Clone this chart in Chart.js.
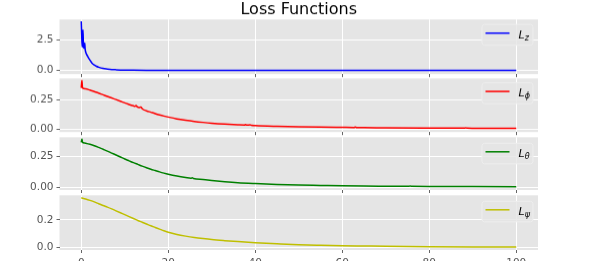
<!DOCTYPE html>
<html>
<head>
<meta charset="utf-8">
<script src="https://cdn.jsdelivr.net/npm/chart.js@4"></script>
<style>
  html, body { margin: 0; padding: 0; background: #fff; overflow: hidden; }
  body { width: 598px; height: 261px; position: relative; }
  .panel { position: absolute; left: 0; width: 598px; }
</style>
</head>
<body>
<div class="panel" style="top:0px;height:82.5px"><canvas id="c1"></canvas></div>
<div class="panel" style="top:69px;height:71.5px"><canvas id="c2"></canvas></div>
<div class="panel" style="top:128px;height:71.3px"><canvas id="c3"></canvas></div>
<div class="panel" style="top:186px;height:86px"><canvas id="c4"></canvas></div>
<script>
// x axis (epochs)
const xTickVals = [0, 20, 40, 60, 80, 100];
const xTickLabels = ["0", "20", "40", "60", "80", "100"];

// L_z
const zX = [0, 0.1, 0.2, 0.3, 0.4, 0.5, 0.6, 0.7, 0.8, 0.9, 1.0, 1.2, 1.5, 2, 2.5, 3, 3.5, 4, 5, 6, 7, 8, 10, 12, 15, 20, 30, 40, 60, 80, 100];
const zY = [4.05, 3.0, 1.95, 2.2, 3.35, 2.1, 1.85, 1.9, 2.25, 1.75, 1.55, 1.35, 1.15, 0.85, 0.6, 0.45, 0.34, 0.27, 0.17, 0.12, 0.08, 0.06, 0.035, 0.025, 0.016, 0.011, 0.008, 0.006, 0.004, 0.003, 0.003];
const zTicks = [0, 2.5];
const zTickLabels = ["0.0", "2.5"];

// L_phi
const phiX = [0, 0.15, 0.3, 1, 2, 3, 4, 5, 6, 7, 8, 9, 10, 11, 12, 12.3, 12.6, 12.9, 13.3, 13.7, 14.1, 15, 16, 17, 18, 19, 20, 22, 24, 26, 28, 30, 33, 36, 37.5, 37.8, 38.1, 38.8, 39.2, 40, 45, 50, 55, 60, 62.7, 63, 63.3, 65, 70, 80, 88.1, 88.4, 88.7, 90, 100];
const phiY = [0.355, 0.42, 0.355, 0.347, 0.336, 0.323, 0.310, 0.296, 0.282, 0.268, 0.254, 0.240, 0.226, 0.212, 0.200, 0.197, 0.203, 0.190, 0.185, 0.189, 0.172, 0.157, 0.145, 0.133, 0.122, 0.112, 0.103, 0.087, 0.075, 0.065, 0.057, 0.050, 0.042, 0.036, 0.034, 0.038, 0.033, 0.036, 0.031, 0.029, 0.023, 0.019, 0.016, 0.014, 0.013, 0.016, 0.013, 0.012, 0.010, 0.008, 0.007, 0.010, 0.007, 0.006, 0.005];
const phiTicks = [0, 0.25];
const phiTickLabels = ["0.00", "0.25"];

// L_theta
const thetaX = [0, 0.15, 0.3, 0.5, 1, 2, 3, 4, 5, 6, 7, 8, 9, 10, 11, 12, 13, 14, 15, 16, 17, 18, 19, 20, 22, 24, 25.2, 25.5, 25.8, 28, 30, 33, 36, 40, 45, 50, 55, 60, 65, 70, 75.3, 75.6, 75.9, 80, 90, 100];
const thetaY = [0.362, 0.39, 0.365, 0.36, 0.356, 0.347, 0.336, 0.322, 0.307, 0.292, 0.276, 0.260, 0.244, 0.228, 0.213, 0.198, 0.184, 0.170, 0.157, 0.145, 0.134, 0.123, 0.113, 0.104, 0.089, 0.077, 0.071, 0.075, 0.070, 0.061, 0.053, 0.043, 0.035, 0.028, 0.021, 0.016, 0.013, 0.010, 0.008, 0.007, 0.006, 0.009, 0.006, 0.005, 0.004, 0.003];
const thetaTicks = [0, 0.25];
const thetaTickLabels = ["0.00", "0.25"];

// L_psi
const psiX = [0, 1, 2, 3, 4, 5, 6, 7, 8, 9, 10, 11, 12, 13, 14, 15, 16, 17, 18, 19, 20, 22, 24, 26, 28, 30, 33, 36, 40, 45, 50, 55, 60, 65, 70, 80, 90, 100];
const psiY = [0.361, 0.352, 0.342, 0.331, 0.318, 0.305, 0.293, 0.280, 0.266, 0.252, 0.238, 0.224, 0.210, 0.196, 0.183, 0.170, 0.157, 0.145, 0.133, 0.121, 0.110, 0.094, 0.082, 0.072, 0.064, 0.057, 0.049, 0.042, 0.034, 0.026, 0.019, 0.015, 0.012, 0.010, 0.008, 0.005, 0.003, 0.002];
const psiTicks = [0, 0.2];
const psiTickLabels = ["0.0", "0.2"];

const tickFont = { family: "DejaVu Sans", size: 10.5 };

// grey panel background
const panelBg = {
  id: "panelBg",
  beforeDraw(chart) {
    const { ctx, chartArea: a } = chart;
    ctx.save();
    ctx.fillStyle = "#e5e5e5";
    ctx.fillRect(a.left, a.top, a.right - a.left, a.bottom - a.top);
    ctx.restore();
  }
};

// legend box in the top right corner, L with a subscript
const panelLegend = {
  id: "panelLegend",
  afterDraw(chart, args, opts) {
    const { ctx, chartArea: a } = chart;
    const w = 51, h = 20.5;
    const x0 = a.right - 5 - w, y0 = a.top + opts.offset;
    ctx.save();
    ctx.beginPath();
    ctx.roundRect(x0, y0, w, h, 2.5);
    ctx.fillStyle = "rgba(229,229,229,0.8)";
    ctx.fill();
    ctx.strokeStyle = "#eeeeee";
    ctx.lineWidth = 1;
    ctx.stroke();

    ctx.beginPath();
    ctx.moveTo(x0 + 3.5, y0 + 8.5);
    ctx.lineTo(x0 + 27.5, y0 + 8.5);
    ctx.strokeStyle = opts.color;
    ctx.lineWidth = 1.5;
    ctx.stroke();

    ctx.fillStyle = "#000";
    ctx.textBaseline = "alphabetic";
    ctx.font = "italic 11px 'DejaVu Sans'";
    ctx.fillText("L", x0 + 36.5, y0 + 13.3);
    const lw = ctx.measureText("L").width;
    ctx.font = "italic 8px 'DejaVu Sans'";
    ctx.fillText(opts.sub, x0 + 36.5 + lw, y0 + 15.5);
    ctx.restore();
  }
};

function makeChart(id, s) {
  return new Chart(document.getElementById(id), {
    type: "line",
    data: {
      datasets: [{
        data: s.xs.map((x, i) => ({ x, y: s.ys[i] })),
        borderColor: s.color,
        borderWidth: 1.5,
        pointRadius: 0,
        cubicInterpolationMode: "monotone",
        fill: false
      }]
    },
    options: {
      responsive: true,
      maintainAspectRatio: false,
      animation: false,
      layout: { padding: { top: s.padTop, bottom: s.padBottom, left: 0, right: 60 } },
      plugins: {
        legend: { display: false },
        tooltip: { enabled: false },
        title: {
          display: !!s.title,
          text: s.title || "",
          fullSize: false,
          color: "#000",
          font: { family: "DejaVu Sans", size: 16, weight: "normal", lineHeight: 1.2 },
          padding: { top: 0, bottom: 0 }
        },
        panelLegend: { color: s.color, sub: s.sub, offset: s.legendOffset }
      },
      scales: {
        x: {
          type: "linear",
          min: -5,
          max: 105,
          afterBuildTicks: sc => { sc.ticks = xTickVals.map(v => ({ value: v })); },
          afterFit: sc => { sc.height = s.showX ? 22 : 0; },
          border: { display: false },
          grid: { color: "#ffffff", lineWidth: 1, tickColor: "#666", tickLength: 3 },
          ticks: {
            display: s.showX,
            padding: 4,
            maxRotation: 0,
            color: "#555",
            font: tickFont,
            callback: v => xTickLabels[xTickVals.indexOf(v)]
          }
        },
        y: {
          min: s.yMin,
          max: s.yMax,
          afterBuildTicks: sc => { sc.ticks = s.ticks.map(v => ({ value: v })); },
          afterFit: sc => { sc.width = 59.5; },
          border: { display: false },
          grid: { color: "#ffffff", lineWidth: 1, tickColor: "#666", tickLength: 3 },
          ticks: {
            padding: 3,
            color: "#555",
            font: tickFont,
            callback: v => s.tickLabels[s.ticks.indexOf(v)]
          }
        }
      }
    },
    plugins: [panelBg, panelLegend]
  });
}

makeChart("c1", { xs: zX, ys: zY, color: "#0000ff", sub: "z", title: "Loss Functions",
  yMin: -0.3, yMax: 4.2, ticks: zTicks, tickLabels: zTickLabels,
  padTop: 0, padBottom: 8, showX: false, legendOffset: 5 });
makeChart("c2", { xs: phiX, ys: phiY, color: "#ff0000", sub: "\u03d5",
  yMin: -0.027, yMax: 0.437, ticks: phiTicks, tickLabels: phiTickLabels,
  padTop: 8.4, padBottom: 8, showX: false, legendOffset: 4.3 });
makeChart("c3", { xs: thetaX, ys: thetaY, color: "#008000", sub: "\u03b8",
  yMin: -0.024, yMax: 0.404, ticks: thetaTicks, tickLabels: thetaTickLabels,
  padTop: 7.8, padBottom: 8, showX: false, legendOffset: 6 });
makeChart("c4", { xs: psiX, ys: psiY, color: "#bfbf00", sub: "\u03c8",
  yMin: -0.019, yMax: 0.379, ticks: psiTicks, tickLabels: psiTickLabels,
  padTop: 8.2, padBottom: 0, showX: true, legendOffset: 6 });
</script>
</body>
</html>
